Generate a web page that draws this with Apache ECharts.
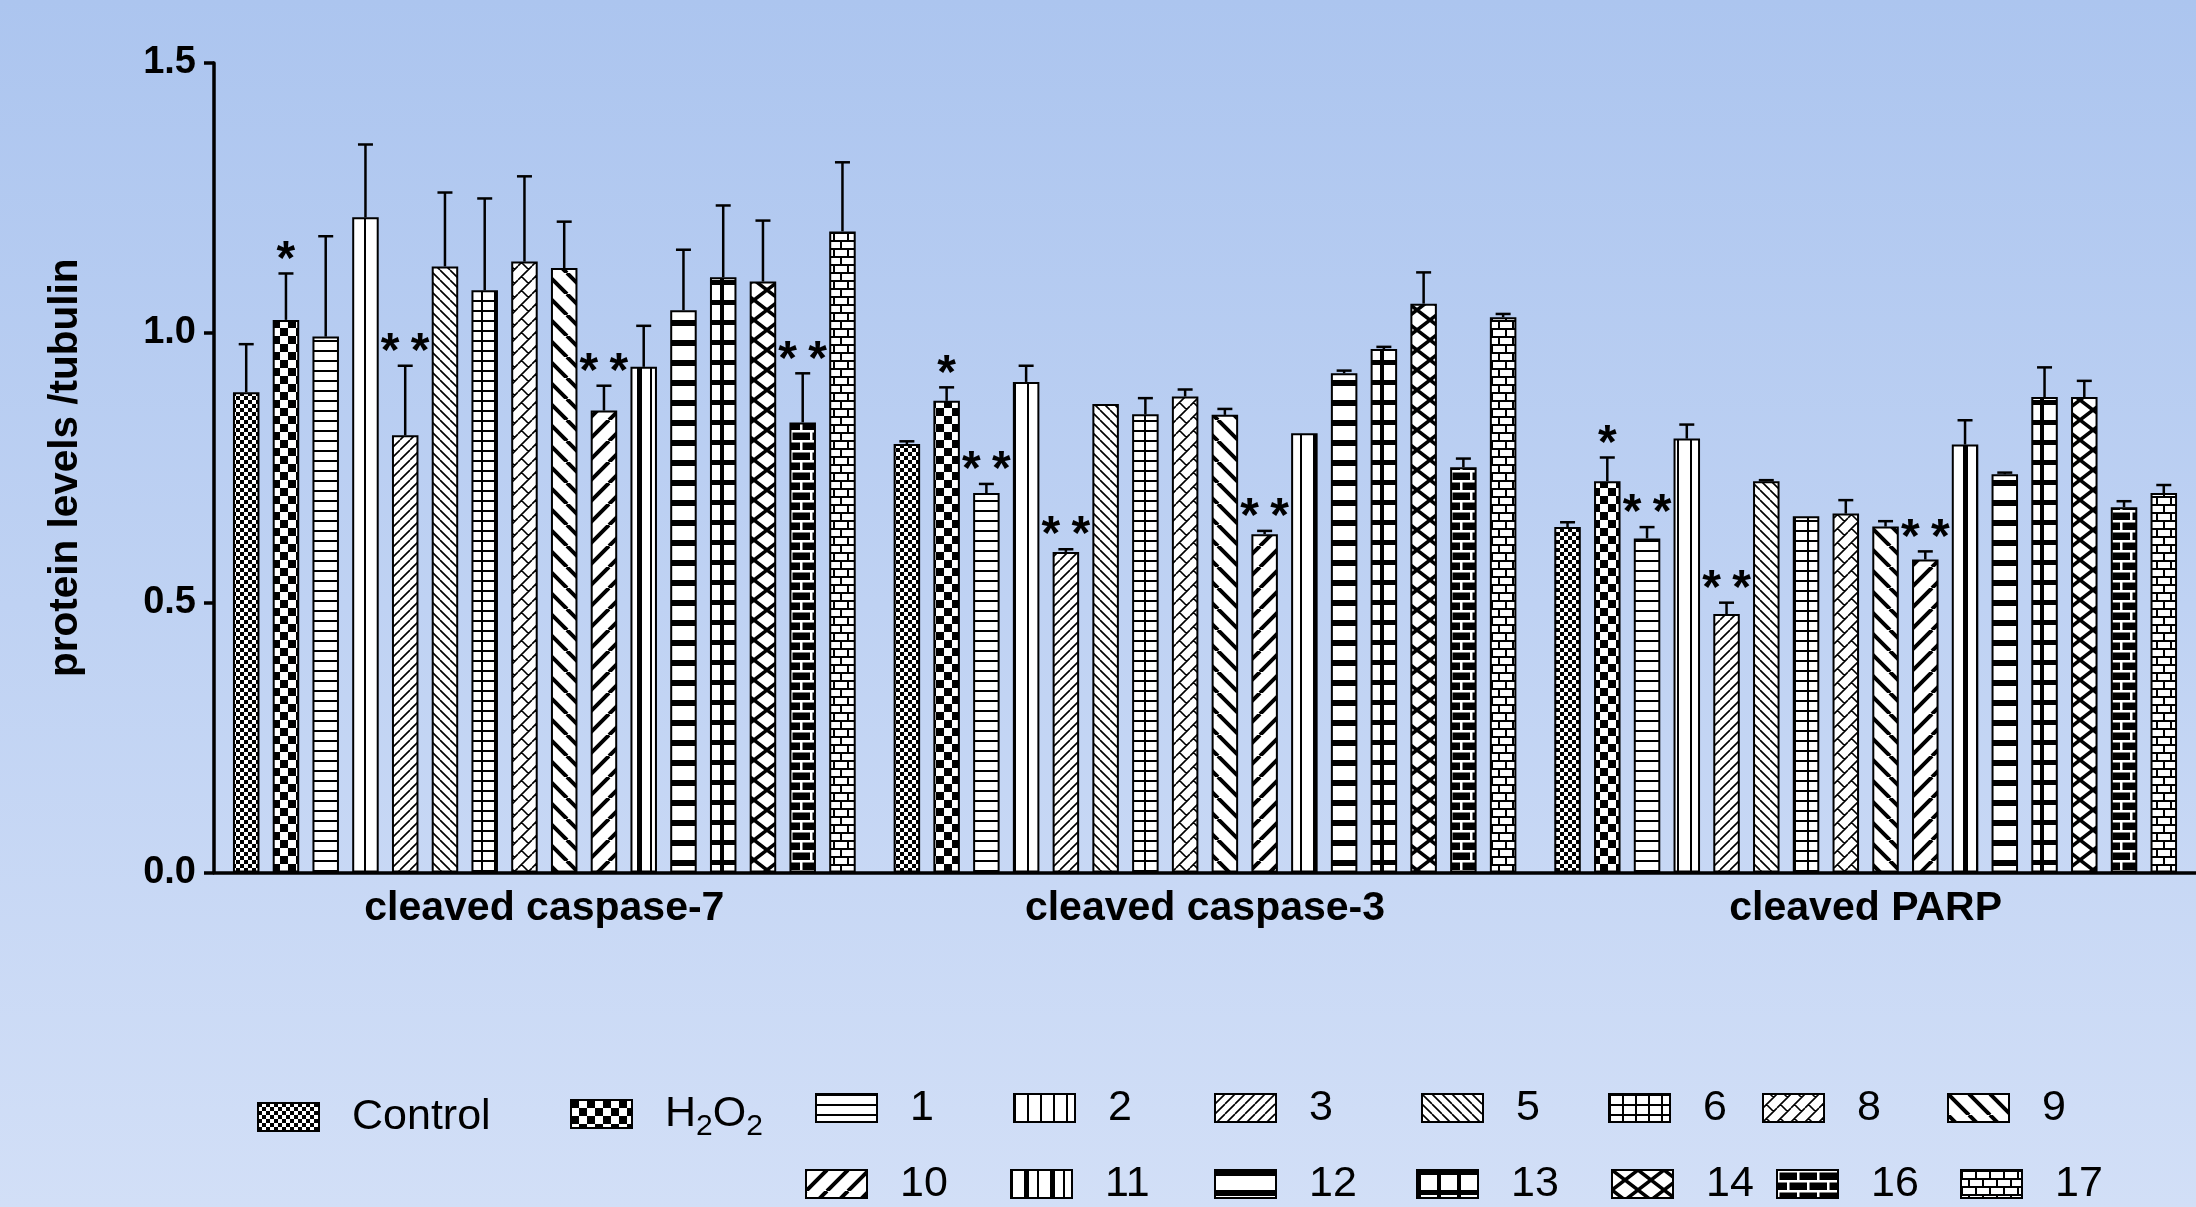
<!DOCTYPE html>
<html>
<head>
<meta charset="utf-8">
<title>cleaved caspase / PARP</title>
<script src="https://cdn.jsdelivr.net/npm/echarts@6/dist/echarts.min.js"></script>
<style>
  html, body { margin: 0; padding: 0; }
  #main { width: 2196px; height: 1207px; }
</style>
</head>
<body>
<div id="main"></div>
<script>
// categories + groups
const categories = ['cleaved caspase-7', 'cleaved caspase-3', 'cleaved PARP'];
const groupNames = ['Control', 'H2O2', '1', '2', '3', '5', '6', '8', '9', '10', '11', '12', '13', '14', '16', '17'];

// means per category (order = groupNames)
const casp7Mean = [0.890, 1.024, 0.993, 1.214, 0.810, 1.123, 1.079, 1.132, 1.120, 0.856, 0.937, 1.042, 1.103, 1.095, 0.834, 1.188];
const casp3Mean = [0.794, 0.874, 0.703, 0.909, 0.594, 0.868, 0.849, 0.882, 0.848, 0.627, 0.814, 0.925, 0.970, 1.054, 0.751, 1.029];
const parpMean  = [0.640, 0.725, 0.619, 0.804, 0.479, 0.725, 0.660, 0.665, 0.641, 0.580, 0.793, 0.738, 0.881, 0.881, 0.677, 0.703];

// SD (upper error bar only)
const casp7Sd = [0.089, 0.086, 0.186, 0.135, 0.129, 0.137, 0.170, 0.158, 0.086, 0.046, 0.076, 0.112, 0.133, 0.113, 0.091, 0.128];
const casp3Sd = [0.005, 0.025, 0.017, 0.030, 0.005, 0.000, 0.030, 0.013, 0.011, 0.006, 0.000, 0.005, 0.004, 0.058, 0.016, 0.006];
const parpSd  = [0.009, 0.044, 0.021, 0.026, 0.021, 0.002, 0.000, 0.025, 0.010, 0.015, 0.045, 0.003, 0.055, 0.030, 0.011, 0.015];

// significance marks (number of stars)
const casp7Stars = [0, 1, 0, 0, 2, 0, 0, 0, 0, 2, 0, 0, 0, 0, 2, 0];
const casp3Stars = [0, 1, 2, 0, 2, 0, 0, 0, 0, 2, 0, 0, 0, 0, 0, 0];
const parpStars  = [0, 1, 2, 0, 2, 0, 0, 0, 0, 2, 0, 0, 0, 0, 0, 0];

const yTicks = [0, 0.5, 1.0, 1.5];

const FONT = 'Liberation Sans, Arial, Helvetica, sans-serif';
const barWidth = 26.5;
const barStep = barWidth * 1.5; // barGap 50%

// ---- fill patterns (canvas tiles) ----
function makeTile(w, h, bg, draw) {
    let c = document.createElement('canvas');
    c.width = w;
    c.height = h;
    let g = c.getContext('2d');
    g.fillStyle = bg;
    g.fillRect(0, 0, w, h);
    g.fillStyle = '#000';
    g.strokeStyle = '#000';
    draw(g, w, h);
    return { image: c, repeat: 'repeat' };
}
function checker(s) {
    return makeTile(2 * s, 2 * s, '#fff', g => {
        g.fillRect(0, 0, s, s);
        g.fillRect(s, s, s, s);
    });
}
function hStripe(p, lw) {
    return makeTile(8, p, '#fff', (g, w) => g.fillRect(0, 0, w, lw));
}
function vStripe(p, lw) {
    return makeTile(p, 8, '#fff', (g, w, h) => g.fillRect(0, 0, lw, h));
}
// dir 1 = '/', -1 = '\'
function diag(w, h, lw, dir) {
    return makeTile(w, h, '#fff', g => {
        g.lineWidth = lw;
        g.beginPath();
        for (let k = -1; k <= 1; k++) {
            if (dir > 0) { g.moveTo(k * w, h); g.lineTo(k * w + w, 0); }
            else { g.moveTo(k * w, 0); g.lineTo(k * w + w, h); }
        }
        g.stroke();
    });
}
function cross(w, h, lw) {
    return makeTile(w, h, '#fff', g => {
        g.lineWidth = lw;
        g.beginPath();
        for (let k = -1; k <= 1; k++) {
            g.moveTo(k * w, h); g.lineTo(k * w + w, 0);
            g.moveTo(k * w, 0); g.lineTo(k * w + w, h);
        }
        g.stroke();
    });
}
function weave(p, lw) {
    return makeTile(p, p, '#fff', g => {
        g.lineWidth = lw;
        g.beginPath();
        for (let k = -1; k <= 1; k++) { g.moveTo(k * p, p); g.lineTo(k * p + p, 0); }
        for (let dx = -p; dx <= p; dx += p) {
            for (let dy = -p; dy <= p; dy += p) {
                g.moveTo(p / 4 + dx, 3 * p / 4 + dy);
                g.lineTo(3 * p / 4 + dx, 5 * p / 4 + dy);
            }
        }
        g.stroke();
    });
}

const patterns = [
    checker(4),                                              // Control
    checker(8),                                              // H2O2
    hStripe(10, 2),                                          // 1
    vStripe(13, 2),                                          // 2
    diag(10, 10, 1.6, 1),                                    // 3
    diag(10, 10, 1.6, -1),                                   // 5
    makeTile(13, 10, '#fff', g => { g.fillRect(0, 0, 13, 2); g.fillRect(0, 0, 2, 10); }), // 6
    weave(14, 1.6),                                          // 8
    diag(21, 21, 4, -1),                                     // 9
    diag(21, 21, 4, 1),                                      // 10
    makeTile(26, 8, '#fff', g => { g.fillRect(0, 0, 2, 8); g.fillRect(13, 0, 5, 8); }),   // 11
    hStripe(20, 6),                                          // 12
    makeTile(20, 20, '#fff', g => { g.fillRect(0, 0, 20, 5); g.fillRect(0, 0, 4, 20); }), // 13
    cross(26, 20, 3.5),                                      // 14
    makeTile(20, 20, '#000', g => {                          // 16
        g.fillStyle = '#fff';
        g.fillRect(0, 0, 20, 2.5); g.fillRect(0, 10, 20, 2.5);
        g.fillRect(0, 0, 2.5, 10); g.fillRect(10, 10, 2.5, 10);
    }),
    makeTile(14, 16, '#fff', g => {                          // 17
        g.fillRect(0, 0, 14, 2); g.fillRect(0, 8, 14, 2);
        g.fillRect(0, 0, 2, 8); g.fillRect(7, 8, 2, 8);
    })
];

// legend placement: [icon left, icon centre y]
const legendPos = [
    [257, 1117], [570, 1108], [815, 1108], [1013, 1108], [1214, 1108], [1421, 1108], [1608, 1108], [1762, 1108], [1947, 1108],
    [805, 1184], [1010, 1184], [1214, 1184], [1416, 1184], [1611, 1184], [1776, 1184], [1960, 1184]
];

let chart = echarts.init(document.getElementById('main'), null, { renderer: 'canvas' });

const means = [casp7Mean, casp3Mean, parpMean];
const sds = [casp7Sd, casp3Sd, parpSd];
const stars = [casp7Stars, casp3Stars, parpStars];

let barSeries = groupNames.map((name, i) => ({
    type: 'bar',
    name: name,
    data: means.map(m => m[i]),
    barWidth: barWidth,
    barGap: '50%',
    itemStyle: { color: patterns[i], borderColor: '#000', borderWidth: 2 },
    z: 2
}));

let errData = [];
means.forEach((m, c) => {
    m.forEach((v, i) => {
        errData.push([c, i, v, +(v + sds[c][i]).toFixed(3), stars[c][i]]);
    });
});

let errSeries = {
    type: 'custom',
    name: 'err',
    data: errData,
    encode: { x: 0, y: 3 },
    z: 5,
    silent: true,
    renderItem: function (params, api) {
        let cat = api.value(0), si = api.value(1), m = api.value(2), up = api.value(3), n = api.value(4);
        let base = api.coord([cat, m]);
        let top = api.coord([cat, up]);
        let x = base[0] + (si - (groupNames.length - 1) / 2) * barStep;
        let kids = [];
        let ls = { stroke: '#000', lineWidth: 2.5 };
        if (up - m > 0.001) {
            kids.push({ type: 'line', shape: { x1: x, y1: base[1], x2: x, y2: top[1] }, style: ls });
            kids.push({ type: 'line', shape: { x1: x - 7.5, y1: top[1], x2: x + 7.5, y2: top[1] }, style: ls });
        }
        for (let k = 0; k < n; k++) {
            let sx = x + (k - (n - 1) / 2) * 30;
            kids.push({
                type: 'text',
                x: sx,
                y: top[1] - 13,
                style: { text: '*', fontSize: 48, fontWeight: 'bold', fontFamily: FONT, fill: '#000', align: 'center', verticalAlign: 'middle' }
            });
        }
        return { type: 'group', children: kids };
    }
};

let legends = groupNames.map((name, i) => ({
    data: [name],
    left: legendPos[i][0],
    top: legendPos[i][1] - 22,
    padding: 0,
    icon: 'rect',
    itemWidth: 61,
    itemHeight: 28,
    selectedMode: false,
    formatter: nm => nm === 'H2O2' ? '{n|H}{s|2}{n|O}{s|2}' : nm,
    textStyle: {
        fontFamily: FONT,
        fontSize: 43,
        color: '#000',
        lineHeight: 44,
        padding: [0, 0, 0, 28],
        rich: {
            n: { fontFamily: FONT, fontSize: 43, color: '#000', lineHeight: 56 },
            s: { fontFamily: FONT, fontSize: 30, color: '#000', verticalAlign: 'bottom' }
        }
    }
}));

let option = {
    animation: false,
    backgroundColor: {
        type: 'linear', x: 0, y: 0, x2: 0, y2: 1,
        colorStops: [{ offset: 0, color: '#acc5ef' }, { offset: 1, color: '#d2dff7' }]
    },
    textStyle: { fontFamily: FONT },
    legend: legends,
    grid: { left: 214, right: -7, top: 63, bottom: 334.5, containLabel: false },
    xAxis: {
        type: 'category',
        data: categories,
        axisLine: { lineStyle: { color: '#000', width: 3.5 } },
        axisTick: { alignWithLabel: true, length: 12, lineStyle: { color: '#000', width: 3.5 } },
        axisLabel: { fontFamily: FONT, fontSize: 41, fontWeight: 'bold', color: '#000', margin: 16 }
    },
    yAxis: {
        type: 'value',
        min: yTicks[0],
        max: yTicks[yTicks.length - 1],
        interval: 0.5,
        name: 'protein levels /tubulin',
        nameLocation: 'middle',
        nameGap: 128,
        nameTextStyle: { fontFamily: FONT, fontSize: 40.5, fontWeight: 'bold', color: '#000' },
        axisLine: { show: true, lineStyle: { color: '#000', width: 3.5 } },
        axisTick: { show: true, length: 10, lineStyle: { color: '#000', width: 3.5 } },
        axisLabel: { fontFamily: FONT, fontSize: 38, fontWeight: 'bold', color: '#000', margin: 18, formatter: v => v.toFixed(1) },
        splitLine: { show: false }
    },
    series: barSeries.concat([errSeries])
};

chart.setOption(option);
</script>
</body>
</html>
